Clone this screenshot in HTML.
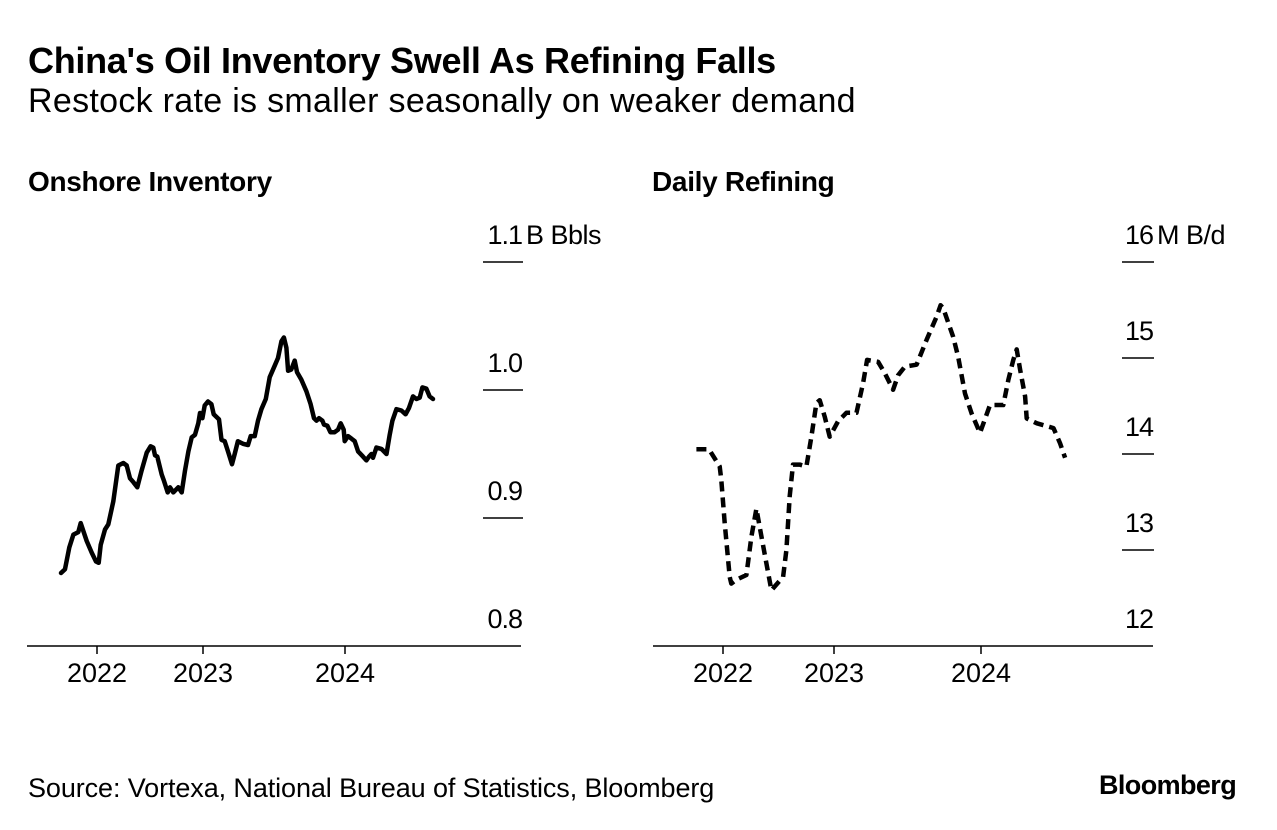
<!DOCTYPE html>
<html><head><meta charset="utf-8"><style>
body{margin:0;background:#fff;width:1277px;height:830px;overflow:hidden;font-family:"Liberation Sans",sans-serif;color:#000}
.t{position:absolute;white-space:nowrap}
</style></head><body>
<div class="t" style="left:28px;top:40px;font-size:36px;font-weight:bold;letter-spacing:-0.3px">China's Oil Inventory Swell As Refining Falls</div>
<div class="t" style="left:28px;top:82px;font-size:34px;letter-spacing:0.3px">Restock rate is smaller seasonally on weaker demand</div>
<div class="t" style="left:28px;top:166px;font-size:28px;font-weight:bold;letter-spacing:-0.3px">Onshore Inventory</div>
<div class="t" style="left:652px;top:166px;font-size:28px;font-weight:bold;letter-spacing:-0.3px">Daily Refining</div>
<div class="t" style="left:28px;top:773px;font-size:27px;letter-spacing:-0.1px">Source: Vortexa, National Bureau of Statistics, Bloomberg</div>
<div class="t" style="left:1099px;top:770px;font-size:27px;font-weight:bold;letter-spacing:-0.6px">Bloomberg</div>
<svg id="svg" width="1277" height="830" style="position:absolute;left:0;top:0"></svg>
<script>
const invYears=[2021.660,2021.698,2021.739,2021.777,2021.824,2021.846,2021.903,2021.950,2021.991,2022.016,2022.035,2022.075,2022.107,2022.154,2022.201,2022.248,2022.280,2022.311,2022.343,2022.380,2022.421,2022.469,2022.506,2022.531,2022.547,2022.569,2022.610,2022.632,2022.667,2022.689,2022.720,2022.767,2022.799,2022.830,2022.862,2022.893,2022.925,2022.956,2022.972,2022.994,2023.012,2023.035,2023.059,2023.075,2023.113,2023.130,2023.153,2023.176,2023.204,2023.223,2023.246,2023.282,2023.317,2023.336,2023.364,2023.387,2023.411,2023.442,2023.470,2023.505,2023.528,2023.552,2023.570,2023.587,2023.599,2023.622,2023.646,2023.662,2023.693,2023.728,2023.758,2023.782,2023.799,2023.817,2023.841,2023.852,2023.876,2023.897,2023.927,2023.951,2023.970,2023.991,2023.998,2024.021,2024.045,2024.068,2024.092,2024.127,2024.151,2024.169,2024.186,2024.197,2024.221,2024.256,2024.292,2024.315,2024.334,2024.362,2024.397,2024.427,2024.451,2024.479,2024.503,2024.526,2024.545,2024.573,2024.596,2024.620];
const invValues=[0.857,0.860,0.877,0.887,0.889,0.896,0.882,0.873,0.866,0.865,0.879,0.891,0.895,0.913,0.941,0.943,0.941,0.931,0.928,0.924,0.937,0.951,0.956,0.955,0.949,0.948,0.934,0.929,0.920,0.924,0.920,0.924,0.920,0.937,0.952,0.963,0.965,0.974,0.982,0.978,0.988,0.991,0.989,0.981,0.977,0.961,0.960,0.952,0.942,0.950,0.960,0.958,0.957,0.964,0.964,0.976,0.985,0.993,1.010,1.019,1.025,1.038,1.041,1.033,1.015,1.016,1.023,1.014,1.008,0.999,0.989,0.978,0.976,0.978,0.976,0.973,0.972,0.967,0.967,0.969,0.974,0.969,0.960,0.964,0.962,0.960,0.952,0.948,0.945,0.948,0.950,0.947,0.955,0.954,0.950,0.965,0.976,0.985,0.984,0.981,0.986,0.995,0.993,0.994,1.002,1.001,0.995,0.993];
const refYears=[2021.760,2021.874,2021.895,2021.970,2021.985,2022.015,2022.060,2022.075,2022.120,2022.211,2022.256,2022.301,2022.331,2022.391,2022.436,2022.466,2022.541,2022.571,2022.601,2022.631,2022.691,2022.751,2022.796,2022.841,2022.871,2022.916,2022.961,2023.027,2023.085,2023.153,2023.198,2023.225,2023.300,2023.346,2023.402,2023.436,2023.482,2023.562,2023.630,2023.698,2023.725,2023.743,2023.811,2023.845,2023.891,2023.937,2023.993,2024.061,2024.152,2024.186,2024.220,2024.243,2024.266,2024.300,2024.311,2024.380,2024.493,2024.538,2024.572];
const refValues=[14.05,14.05,14.01,13.87,13.73,13.28,12.72,12.65,12.69,12.74,13.14,13.43,13.24,12.86,12.58,12.62,12.72,13.00,13.56,13.89,13.89,13.87,14.18,14.53,14.56,14.39,14.18,14.34,14.43,14.43,14.74,14.98,14.96,14.84,14.67,14.82,14.91,14.93,15.19,15.43,15.55,15.52,15.22,15.01,14.63,14.42,14.22,14.51,14.51,14.77,14.98,15.09,14.88,14.60,14.37,14.32,14.27,14.11,13.96];
const xTicks=[2022,2023,2024];
const invTicks=[0.8,0.9,1.0,1.1];
const invTickLabels=["0.8","0.9","1.0","1.1"];
const refTicks=[12,13,14,15,16];
const refTickLabels=["12","13","14","15","16"];

const NS="http://www.w3.org/2000/svg";
const svg=document.getElementById('svg');
function mk(tag,attrs,parent){const e=document.createElementNS(NS,tag);for(const k in attrs)e.setAttribute(k,attrs[k]);(parent||svg).appendChild(e);return e;}
function timeScale(px){return function(y){
  let i=0; if(y>=xTicks[1])i=1;
  const slope=(px[i+1]-px[i])/(xTicks[i+1]-xTicks[i]);
  return px[i]+(y-xTicks[i])*slope;};}
function linScale(d0,d1,r0,r1){return v=>r0+(v-d0)*(r1-r0)/(d1-d0);}

function panel(cfg){
  const g=mk('g',{});
  
  
  const base=mk('line',{x1:cfg.left,x2:cfg.right,y1:cfg.base,y2:cfg.base,stroke:'#000','stroke-width':1.5},g);
  
  
  xTicks.forEach(t=>{
    const x=cfg.x(t);
    const tk=mk('line',{x1:x,x2:x,y1:cfg.base,y2:cfg.base+8,stroke:'#000','stroke-width':1.5},g);
    
    
    const tx=mk('text',{x:x,y:cfg.base+36,'text-anchor':'middle','font-size':27,'font-family':'Liberation Sans, sans-serif'},g);
    tx.textContent=String(t);
    
    
  });
  cfg.ticks.forEach((v,i)=>{
    const y=cfg.y(v);
    if(i>0){
      const l=mk('line',{x1:cfg.tickL,x2:cfg.tickR,y1:y,y2:y,stroke:'#000','stroke-width':1.5},g);
      
      
    }
    const tx=mk('text',{x:cfg.labX,y:y-18,'text-anchor':'end','font-size':27,'font-family':'Liberation Sans, sans-serif','letter-spacing':'-1'},g);
    tx.textContent=cfg.labels[i];
    
    
    if(i===cfg.ticks.length-1){
      const u=mk('text',{x:cfg.labX+4,y:y-18,'font-size':27,'font-family':'Liberation Sans, sans-serif','letter-spacing':'-0.5'},g);
      u.textContent=cfg.unit;
      
      
    }
  });
  let d='';
  cfg.xs.forEach((t,i)=>{d+=(i?'L':'M')+cfg.x(t).toFixed(1)+','+cfg.y(cfg.vs[i]).toFixed(1);});
  const p=mk('path',{d:d,fill:'none',stroke:'#000','stroke-width':4.5,'stroke-linejoin':'round','stroke-linecap':cfg.dash?'butt':'round'},g);
  if(cfg.dash)p.setAttribute('stroke-dasharray',cfg.dash);
  
  
}
panel({name:'onshore-inventory-chart',left:27,right:521,base:646,x:timeScale([97,203,345]),y:linScale(0.8,1.1,646,262),
  ticks:invTicks,labels:invTickLabels,unit:'B Bbls',tickL:483,tickR:523,labX:522,xs:invYears,vs:invValues,lineName:'inventory-line'});
panel({name:'daily-refining-chart',left:653,right:1153,base:646,x:timeScale([723,834,981]),y:linScale(12,16,646,262),
  ticks:refTicks,labels:refTickLabels,unit:'M B/d',tickL:1122,tickR:1154,labX:1153,xs:refYears,vs:refValues,dash:'10 6',lineName:'refining-line'});
</script>
</body></html>
